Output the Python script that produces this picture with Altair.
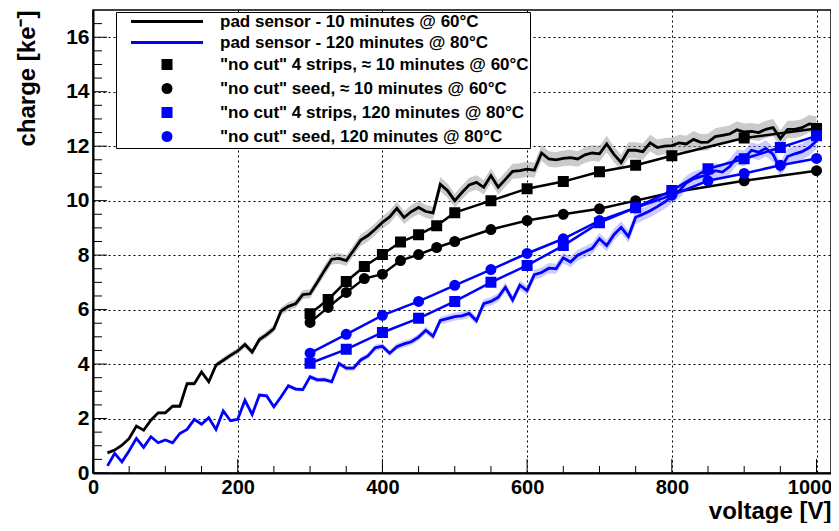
import altair as alt
import pandas as pd

# ---------------- data ----------------
V_PAD = list(range(20, 1001, 10))

PAD_60 = [0.74, 0.84, 1.02, 1.27, 1.72, 1.57, 1.94, 2.21, 2.21, 2.45,
          2.45, 3.28, 3.28, 3.71, 3.35, 3.96, 4.14, 4.32, 4.48, 4.72,
          4.44, 4.90, 5.08, 5.30, 5.95, 6.12, 6.21, 6.55, 6.58, 7.00,
          7.44, 7.85, 7.88, 7.80, 8.17, 8.55, 8.72, 8.95, 9.20, 9.40,
          9.72, 9.38, 9.60, 9.75, 9.60, 9.55, 10.60, 10.37, 10.00, 10.30,
          10.58, 10.67, 10.49, 10.92, 10.49, 10.78, 11.08, 11.10, 11.16, 11.12,
          11.75, 11.53, 11.50, 11.55, 11.58, 11.53, 11.68, 11.75, 11.72, 12.08,
          11.70, 11.40, 11.85, 11.85, 11.80, 12.12, 11.95, 12.00, 12.02, 12.12,
          12.08, 12.25, 12.14, 12.15, 12.35, 12.40, 12.45, 12.60, 12.52, 12.54,
          12.50, 12.62, 12.68, 12.28, 12.62, 12.62, 12.68, 12.82, 12.78]

PAD_80 = [0.26, 0.72, 0.41, 0.82, 1.27, 0.94, 1.33, 1.11, 1.21, 1.11,
          1.45, 1.60, 1.97, 1.79, 2.03, 1.60, 2.28, 1.92, 1.97, 2.67,
          2.15, 2.86, 2.83, 2.43, 2.80, 3.20, 3.08, 3.06, 3.53, 3.42,
          3.43, 3.35, 4.02, 3.85, 3.85, 4.15, 4.30, 4.60, 4.65, 4.40,
          4.64, 4.74, 4.82, 4.99, 5.24, 5.02, 5.60, 5.67, 5.74, 5.77,
          5.86, 5.59, 6.22, 6.30, 6.45, 6.82, 6.35, 6.90, 6.70, 7.28,
          7.36, 7.52, 7.50, 7.90, 7.75, 8.00, 8.12, 8.25, 8.60, 8.35,
          8.75, 9.02, 8.68, 9.39, 9.50, 9.63, 9.78, 9.95, 10.15, 10.35,
          10.65, 10.80, 10.88, 10.95, 11.10, 11.05, 11.25, 11.60, 11.55, 11.85,
          11.78, 11.92, 11.70, 11.15, 11.62, 11.72, 11.80, 11.95, 12.20]

REL_ERR = 0.025  # relative size of the pad-sensor uncertainty band

V_MARK_60 = [300, 325, 350, 375, 400, 425, 450, 475, 500, 550, 600, 650, 700, 750, 800, 900, 1000]
STRIPS_60 = [5.85, 6.37, 7.03, 7.58, 8.02, 8.48, 8.75, 9.08, 9.56, 10.00, 10.44, 10.70, 11.06, 11.30, 11.65, 12.30, 12.65]
SEED_60 = [5.53, 6.08, 6.63, 7.14, 7.30, 7.80, 8.02, 8.28, 8.50, 8.94, 9.27, 9.50, 9.70, 10.00, 10.30, 10.73, 11.10]

V_MARK_80 = [300, 350, 400, 450, 500, 550, 600, 650, 700, 750, 800, 850, 900, 950, 1000]
STRIPS_80 = [4.03, 4.54, 5.16, 5.68, 6.30, 7.00, 7.62, 8.35, 9.19, 9.74, 10.37, 11.17, 11.54, 11.95, 12.38]
SEED_80 = [4.40, 5.09, 5.79, 6.30, 6.89, 7.47, 8.06, 8.60, 9.27, 9.74, 10.20, 10.73, 11.00, 11.30, 11.55]

S_PAD60 = "pad sensor - 10 minutes @ 60°C"
S_PAD80 = "pad sensor - 120 minutes @ 80°C"
S_STR60 = "\"no cut\" 4 strips, \u2248 10 minutes @ 60°C"
S_SEED60 = "\"no cut\" seed, \u2248 10 minutes @ 60°C"
S_STR80 = "\"no cut\" 4 strips, 120 minutes @ 80°C"
S_SEED80 = "\"no cut\" seed, 120 minutes @ 80°C"
SERIES = [S_PAD60, S_PAD80, S_STR60, S_SEED60, S_STR80, S_SEED80]
COLORS = ["#000000", "#0000ff", "#000000", "#000000", "#0000ff", "#0000ff"]

X_MAJOR = [0, 200, 400, 600, 800, 1000]
X_MINOR = [50, 100, 150, 250, 300, 350, 450, 500, 550, 650, 700, 750, 850, 900, 950]
Y_MAJOR = [0, 2, 4, 6, 8, 10, 12, 14, 16]
Y_MINOR = [0.5, 1, 1.5, 2.5, 3, 3.5, 4.5, 5, 5.5, 6.5, 7, 7.5, 8.5, 9, 9.5,
           10.5, 11, 11.5, 12.5, 13, 13.5, 14.5, 15, 15.5, 16.5]

# ---------------- layout / style ----------------
W, H = 738, 463
FONT = "Liberation Sans"
LINE_PATH = "M-9,0L9,0"
SHAPES = [LINE_PATH, LINE_PATH, "square", "circle", "square", "circle"]

pad_rows = []
for v, a, b in zip(V_PAD, PAD_60, PAD_80):
    pad_rows.append({"v": v, "q": a, "lo": a * (1 - REL_ERR), "hi": a * (1 + REL_ERR), "series": S_PAD60})
    pad_rows.append({"v": v, "q": b, "lo": b * (1 - REL_ERR), "hi": b * (1 + REL_ERR), "series": S_PAD80})
pad_df = pd.DataFrame(pad_rows)

mrows = []
for v, a, b in zip(V_MARK_60, STRIPS_60, SEED_60):
    mrows.append({"v": v, "q": a, "series": S_STR60})
    mrows.append({"v": v, "q": b, "series": S_SEED60})
for v, a, b in zip(V_MARK_80, STRIPS_80, SEED_80):
    mrows.append({"v": v, "q": a, "series": S_STR80})
    mrows.append({"v": v, "q": b, "series": S_SEED80})
mark_df = pd.DataFrame(mrows)

xs = alt.Scale(domain=[0, 1020], nice=False, zero=False)
ys = alt.Scale(domain=[0, 17], nice=False, zero=False)
cscale = alt.Scale(domain=SERIES, range=COLORS)
sscale = alt.Scale(domain=SERIES, range=SHAPES)

x_axis = alt.Axis(values=X_MAJOR, grid=True, gridColor="black", gridDash=[2, 3], gridWidth=1,
                  ticks=False, tickSize=0, domain=True, domainColor="black", domainWidth=2,
                  labelFont=FONT, labelFontSize=20, labelFontWeight="bold", labelColor="black",
                  labelPadding=4, labelFlush=False, labelOverlap=False, format="d",
                  labelOffset={"condition": {"test": "datum.value == 1000", "value": -7}, "value": 0},
                  title="voltage [V]", titleFont=FONT, titleFontSize=24, titleFontWeight="bold",
                  titleColor="black", titleX=W, titleY=45, titleAlign="right",
                  titleBaseline="alphabetic")
y_axis = alt.Axis(values=Y_MAJOR, grid=True, gridColor="black", gridDash=[2, 3], gridWidth=1,
                  ticks=False, tickSize=0, domain=True, domainColor="black", domainWidth=2,
                  labelFont=FONT, labelFontSize=21, labelFontWeight="bold", labelColor="black",
                  labelPadding=4, labelFlush=False, labelOverlap=False, format="d",
                  title="charge [ke\u207b]", titleFont=FONT, titleFontSize=24, titleFontWeight="bold",
                  titleColor="black", titleAngle=270, titleX=-59, titleY=0, titleAlign="right",
                  titleBaseline="alphabetic")

leg = alt.Legend(title=None, orient="none", legendX=23, legendY=2, fillColor="white",
                 strokeColor="black", padding=1, cornerRadius=0,
                 labelFont=FONT, labelFontSize=17, labelFontWeight="bold", labelColor="black",
                 labelLimit=500, rowPadding=3.0, symbolOffset=41.5, labelOffset=44.5,
                 symbolSize=64, symbolStrokeWidth=3, symbolOpacity=1)

X = alt.X("v:Q", scale=xs, axis=x_axis)
Y = alt.Y("q:Q", scale=ys, axis=y_axis)
C = alt.Color("series:N", scale=cscale, legend=leg)

base_pad = alt.Chart(pad_df)

band60 = base_pad.transform_filter(alt.datum.series == S_PAD60).mark_area(
    color="#8c8c8c", opacity=0.45).encode(
    x=X, y=alt.Y("lo:Q", scale=ys, axis=y_axis), y2="hi:Q")
band80 = base_pad.transform_filter(alt.datum.series == S_PAD80).mark_area(
    color="#6a6aff", opacity=0.35).encode(
    x=X, y=alt.Y("lo:Q", scale=ys, axis=y_axis), y2="hi:Q")

pad_lines = base_pad.mark_line(strokeWidth=2.8, strokeJoin="miter").encode(
    x=X, y=Y, color=C, detail="series:N")

mark_lines = alt.Chart(mark_df).mark_line(strokeWidth=2.5).encode(
    x=X, y=Y, color=C, detail="series:N")

points = alt.Chart(mark_df).mark_point(filled=True, size=64, strokeWidth=3, opacity=1).encode(
    x=X, y=Y, color=C,
    stroke=alt.Stroke("series:N", scale=cscale, legend=leg),
    shape=alt.Shape("series:N", scale=sscale, legend=leg))

xt_major = alt.Chart(pd.DataFrame({"v": X_MAJOR})).mark_rule(color="black", strokeWidth=1).encode(
    x=X, y=alt.value(H), y2=alt.value(H - 14))
xt_minor = alt.Chart(pd.DataFrame({"v": X_MINOR})).mark_rule(color="black", strokeWidth=1).encode(
    x=X, y=alt.value(H), y2=alt.value(H - 7))
yt_major = alt.Chart(pd.DataFrame({"q": Y_MAJOR})).mark_rule(color="black", strokeWidth=1).encode(
    y=Y, x=alt.value(0), x2=alt.value(14))
yt_minor = alt.Chart(pd.DataFrame({"q": Y_MINOR})).mark_rule(color="black", strokeWidth=1).encode(
    y=Y, x=alt.value(0), x2=alt.value(9))

chart = alt.layer(band60, band80, pad_lines, mark_lines, points,
                  xt_major, xt_minor, yt_major, yt_minor).properties(
    width=W, height=H,
    padding={"left": 85, "top": 2, "right": 0, "bottom": 50},
    autosize=alt.AutoSizeParams(type="none"),
    background="white",
).configure_view(stroke="black", strokeWidth=1.5)

chart.save("out.html", embed_options={"renderer": "svg", "actions": False})
